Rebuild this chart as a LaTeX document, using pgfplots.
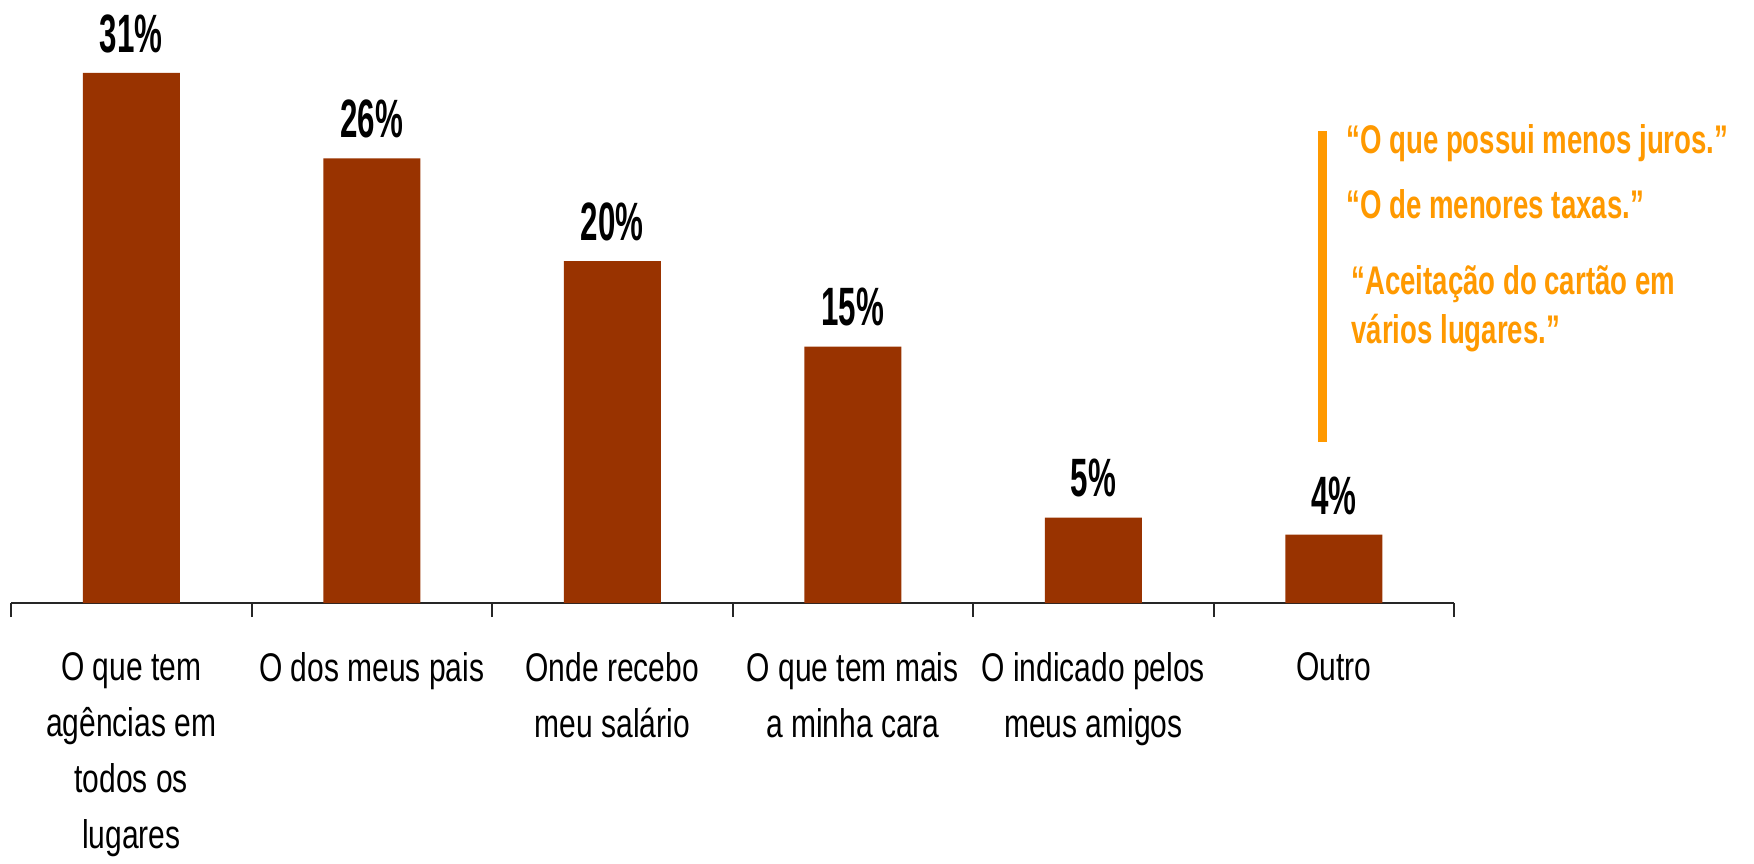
\documentclass[border=0pt]{standalone}
\usepackage{pgfplots}
\pgfplotsset{compat=1.18}
\usepackage{fontspec}
\setmainfont{Liberation Sans}[FakeStretch=0.75]
\newfontfamily\numfont{Liberation Sans}[FakeStretch=0.58]
\newfontfamily\quotefont{Liberation Sans}[FakeStretch=0.69]
\definecolor{barred}{RGB}{153,51,0}
\definecolor{quoteorange}{RGB}{255,153,0}
\begin{document}
\begin{tikzpicture}[x=1pt,y=1pt]
\path[use as bounding box] (0,0) rectangle (877,431.5);
\begin{axis}[
 at={(5.5pt,130pt)}, anchor=south west,
 scale only axis, width=721.5pt, height=299.25pt,
 xmin=-0.5, xmax=5.5, ymin=0, ymax=35,
 axis x line=bottom, axis y line=none,
 axis line style={black!85, line width=1pt, -},
 /pgf/number format/assume math mode=true,
 xtick={0,...,5},
 xticklabels={{O que tem\\agências em\\todos os\\lugares},{O dos meus pais},{Onde recebo\\meu salário},{O que tem mais\\a minha cara},{O indicado pelos\\meus amigos},{Outro}},
 major tick length=0pt,
 extra x ticks={-0.5,0.5,1.5,2.5,3.5,4.5,5.5},
 extra x tick labels={},
 extra x tick style={major tick length=7pt, tick align=outside, tick style={black!85,line width=1pt}},
 xticklabel style={align=center, font=\fontsize{20}{28}\selectfont, yshift=-21pt},
 ybar, bar width=48.5pt,
 nodes near coords={\pgfmathprintnumber{\pgfplotspointmeta}\%},
 nodes near coords style={font=\numfont\bfseries\fontsize{27}{27}\selectfont, anchor=south, yshift=6.5pt, text=black},
 clip=false,
]
\addplot[fill=barred, draw=none] coordinates {(0,31) (1,26) (2,20) (3,15) (4,5) (5,4)};
\end{axis}
\draw[quoteorange, line width=4.5pt] (661,210.5) -- (661,366);
\begin{scope}[every node/.style={anchor=mid west, inner sep=0pt, text=quoteorange, font=\quotefont\bfseries\fontsize{20}{20}\selectfont}]
\node at (673,357.5) {“O que possui menos juros.”};
\node at (673,325) {“O de menores taxas.”};
\node at (675.5,287) {“Aceitação do cartão em};
\node at (675.5,262.5) {vários lugares.”};
\end{scope}
\end{tikzpicture}
\end{document}
